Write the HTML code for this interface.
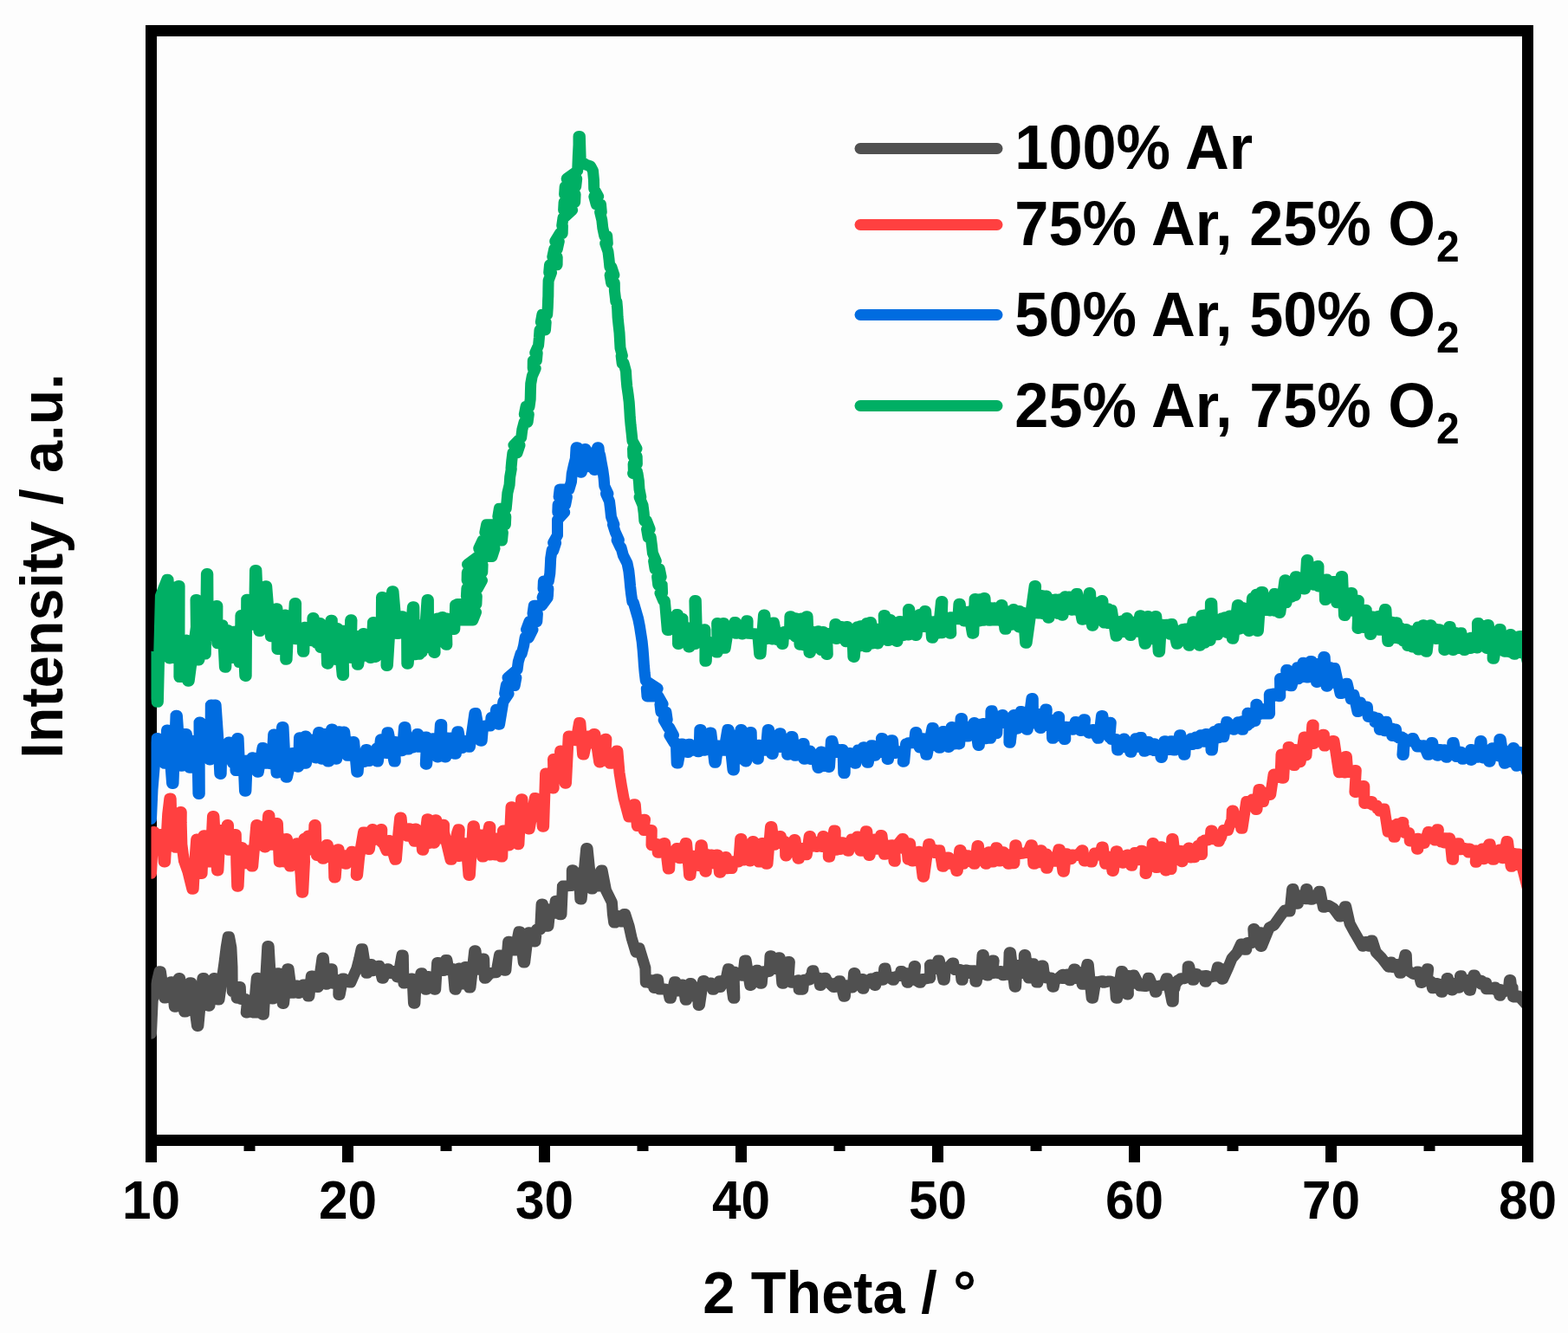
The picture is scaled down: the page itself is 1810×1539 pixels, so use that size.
<!DOCTYPE html>
<html lang="en">
<head>
<meta charset="utf-8">
<title>XRD patterns</title>
<style>
html,body{margin:0;padding:0;background:#fdfdfd;}
body{width:1810px;height:1539px;overflow:hidden;}
svg{display:block;}
text{font-family:"Liberation Sans",Arial,Helvetica,sans-serif;font-weight:bold;fill:#000;}
.tl text{font-size:60.3px;text-anchor:middle;}
.ax{font-size:66.7px;text-anchor:middle;}
.lg text{font-size:70.3px;}
.lg .sub{font-size:48px;}
.lg line{stroke-width:13;stroke-linecap:round;}
.ln{fill:none;stroke-width:13;stroke-linejoin:round;stroke-linecap:round;}
.tk line{stroke:#000;stroke-width:13;}
</style>
</head>
<body>
<svg xmlns="http://www.w3.org/2000/svg" width="1810" height="1539" viewBox="0 0 1810 1539" role="img" aria-label="XRD patterns: Intensity versus 2 Theta for four Ar/O2 ratios">
<defs><clipPath id="plot"><rect x="174.5" y="42" width="1582.5" height="1268"/></clipPath></defs>
<rect x="0" y="0" width="1810" height="1539" fill="#fdfdfd"/>
<rect x="174.5" y="35.5" width="1589" height="1281" fill="none" stroke="#000" stroke-width="13"/>
<g class="tk"><line x1="174.5" y1="1316" x2="174.5" y2="1342"/><line x1="401.5" y1="1316" x2="401.5" y2="1342"/><line x1="628.5" y1="1316" x2="628.5" y2="1342"/><line x1="855.5" y1="1316" x2="855.5" y2="1342"/><line x1="1082.5" y1="1316" x2="1082.5" y2="1342"/><line x1="1309.5" y1="1316" x2="1309.5" y2="1342"/><line x1="1536.5" y1="1316" x2="1536.5" y2="1342"/><line x1="1763.5" y1="1316" x2="1763.5" y2="1342"/>
<line x1="288" y1="1316" x2="288" y2="1329"/><line x1="515" y1="1316" x2="515" y2="1329"/><line x1="742" y1="1316" x2="742" y2="1329"/><line x1="969" y1="1316" x2="969" y2="1329"/><line x1="1196" y1="1316" x2="1196" y2="1329"/><line x1="1423" y1="1316" x2="1423" y2="1329"/><line x1="1650" y1="1316" x2="1650" y2="1329"/></g>
<g clip-path="url(#plot)">
<polyline class="ln" stroke="#505050" points="174.5,1193.2 176.2,1155 184,1121.7 185.4,1121.7 189.7,1152.1 191.1,1152.1 197.4,1133.8 198.8,1133.8 201.3,1162.3 202.7,1162.3 206.3,1129.6 207.7,1129.6 212.7,1168.1 214.1,1168.1 219.5,1134.7 220.9,1134.7 227.5,1184.4 228.9,1184.4 233.9,1129.6 235.3,1129.6 240.5,1161.2 241.9,1161.2 246.6,1129.6 248,1129.6 251.6,1154 253,1154 258.9,1111.9 261.1,1094.2 263.2,1081.7 264.6,1081.7 266.9,1094.2 268,1116.3 268.2,1144.6 269.6,1144.6 270.7,1140.8 272.1,1140.8 273.1,1152.3 274.5,1152.3 275.9,1139.4 277.3,1139.4 278,1153.5 279.4,1153.5 280,1153.5 281.4,1153.5 282.1,1153.5 283.5,1153.5 284.2,1154.6 285.6,1154.6 284.2,1169.1 285.6,1169.1 286,1157.5 287.4,1157.5 287.8,1166.1 289.2,1166.1 289.6,1157.5 291,1157.5 291.4,1168.9 292.8,1168.9 296.3,1129.2 297.7,1129.2 296.9,1168.9 298.3,1168.9 299.9,1137.3 301.3,1137.3 303,1171.3 304.4,1171.3 308.8,1092.5 310.2,1092.5 313.7,1153.1 315.1,1153.1 320.7,1123.7 322.1,1123.7 326.2,1158.4 327.6,1158.4 331.7,1118.7 333.1,1118.7 336.7,1146.3 338.1,1146.3 342.2,1137.9 343.6,1137.9 343.9,1146.5 345.3,1146.5 349.9,1136.9 351.3,1136.9 355.5,1150.1 356.9,1150.1 359.3,1126.9 360.7,1126.9 365.9,1139.5 367.3,1139.5 372,1106.1 373.4,1106.1 375.8,1136.2 377.2,1136.2 381.9,1118.8 383.3,1118.8 383.9,1135.3 385.3,1135.3 385.8,1132.5 387.2,1132.5 387.7,1135.3 389.1,1135.3 389.7,1131.5 391.1,1131.5 390.8,1148.4 392.2,1148.4 395.7,1129.9 397.1,1129.9 398.8,1133.5 400.2,1133.5 401.8,1132.1 403.2,1132.1 403.5,1134 404.9,1134 411.8,1118.4 414.6,1107.3 417.1,1095.8 418.5,1095.8 422.8,1123.3 424.2,1123.3 427.8,1113.6 429.2,1113.6 429.4,1120.7 430.8,1120.7 436.6,1115.2 438,1115.2 441,1129.2 442.4,1129.2 447.1,1118.8 448.5,1118.8 448.8,1123.5 450.2,1123.5 453.2,1121.6 454.6,1121.6 458.2,1127.9 459.6,1127.9 463.9,1103 465.3,1103 465.9,1135.1 467.3,1135.1 468.8,1130.9 470.2,1130.9 471.8,1134.1 473.2,1134.1 474.7,1129.9 476.1,1129.9 477.5,1158.3 478.9,1158.3 480.3,1131.1 481.7,1131.1 483,1139.3 484.4,1139.3 485.8,1123.8 487.2,1123.8 491.3,1142.3 492.7,1142.3 493.8,1127.5 495.2,1127.5 496.3,1138.6 497.7,1138.6 498.8,1127.5 500.2,1127.5 501.3,1142.3 502.7,1142.3 504.6,1111.6 506,1111.6 510.7,1120.4 512.1,1120.4 514.5,1108.5 515.9,1108.5 518,1119.9 519.4,1119.9 521.5,1118.5 522.9,1118.5 525,1142.3 526.4,1142.3 529.4,1118 530.8,1118 531.2,1136.2 532.6,1136.2 533,1122.3 534.4,1122.3 534.8,1135.9 536.2,1135.9 536.6,1116.6 538,1116.6 541.6,1140.1 543,1140.1 547.7,1097.8 549.1,1097.8 551.1,1119.3 552.5,1119.3 557.3,1107 558.7,1107 559.3,1129.3 560.7,1129.3 566.1,1123.4 567.5,1123.4 571.6,1122.7 573,1122.7 576.4,1103 577.8,1103 582.5,1120.2 583.9,1120.2 586.6,1087.3 588,1087.3 593.4,1097 594.8,1097 598.9,1075.7 600.3,1075.7 604.3,1111.1 605.7,1111.1 609.8,1076.8 611.2,1076.8 616.6,1087 618,1087 619.4,1073 620.8,1073 622.3,1073 623.7,1073 625.1,1043.9 626.5,1043.9 628.4,1065 629.8,1065 631.6,1049.7 633,1049.7 631.6,1069.2 633,1069.2 634.8,1051 636.2,1051 638,1054.6 639.4,1054.6 641.2,1040.2 642.6,1040.2 646.6,1055.8 648,1055.8 649.4,1023.1 650.8,1023.1 658.9,1022.4 660.3,1022.4 660.3,1004.7 661.7,1004.7 663.7,1019.4 665.1,1019.4 667.1,1008.1 668.5,1008.1 669.8,1038.1 671.2,1038.1 676.7,979.5 678.1,979.5 682.8,1026.1 684.2,1026.1 686.2,1010.2 687.6,1010.2 688.1,1023.1 689.5,1023.1 690,1012.4 691.4,1012.4 691.8,1023 693.2,1023 693.7,1005.1 695.1,1005.1 699.6,1028.2 706.4,1041.9 707.4,1055.5 708.7,1065.1 710.1,1065.1 712.6,1057.6 714,1057.6 716.5,1064 717.9,1064 720.3,1055.6 721.7,1055.6 726.1,1069.2 729.1,1082.8 734,1099.2 736.7,1094.8 738.1,1094.8 744.9,1117.3 745.3,1134.1 746.7,1134.1 747.7,1131.5 749.1,1131.5 750,1134.6 751.4,1134.6 752.4,1131.8 753.8,1131.8 754.7,1140.4 756.1,1140.4 758.1,1130.7 759.5,1130.7 761,1142 762.4,1142 763.9,1142 765.3,1142 766.8,1142 768.2,1142 769.7,1143.7 771.1,1143.7 773,1152.3 774.4,1152.3 778.5,1133.8 779.9,1133.8 782.4,1144 783.8,1144 787.3,1137.1 788.7,1137.1 791.2,1154.3 792.6,1154.3 796.7,1135.5 798.1,1135.5 797.8,1150.1 799.2,1150.1 804.5,1139.9 805.9,1139.9 806.1,1160.4 807.5,1160.4 811.6,1132.5 813,1132.5 815.5,1137.4 816.9,1137.4 819.4,1134.9 820.8,1134.9 822.7,1142.3 824.1,1142.3 824.9,1139.9 826.3,1139.9 830.4,1132.7 831.8,1132.7 830.4,1139.6 831.8,1139.6 836.5,1131.3 837.9,1131.3 840.4,1118.7 841.8,1118.7 846.5,1152.3 847.9,1152.3 847,1122.2 848.4,1122.2 850.1,1125.5 851.5,1125.5 853.3,1123 854.7,1123 856.4,1126.3 857.8,1126.3 859.7,1108.9 861.1,1108.9 865.8,1137.4 867.2,1137.4 868,1122.2 869.4,1122.2 872.4,1133.5 873.8,1133.5 873,1120.3 874.4,1120.3 877.9,1135.2 879.3,1135.2 880.2,1124.4 881.6,1124.4 882.4,1121.5 883.8,1121.5 884.6,1121.5 886,1121.5 886.8,1121.5 888.2,1121.5 889,1103.7 890.4,1103.7 892.3,1118.6 893.7,1118.6 898.9,1105.8 900.3,1105.8 902.8,1135.2 904.2,1135.2 910,1110.6 911.4,1110.6 910,1131.3 911.4,1131.3 913.3,1134.3 914.7,1134.3 921,1131.8 922.4,1131.8 922.1,1142.3 923.5,1142.3 924.4,1134.9 925.8,1134.9 925.4,1142.3 926.8,1142.3 927.9,1131.2 929.3,1131.2 930.4,1131.2 931.8,1131.2 932.9,1131.2 934.3,1131.2 935.3,1127.4 936.7,1127.4 937.6,1120.8 939,1120.8 940.5,1129 941.9,1129 943.5,1129 944.9,1129 946.4,1137.4 947.8,1137.4 947,1130.5 948.4,1130.5 949.4,1133.1 950.8,1133.1 951.9,1129.2 953.3,1129.2 953.6,1132.4 955,1132.4 961.9,1139.6 963.3,1139.6 963,1135.5 964.4,1135.5 965.7,1138.6 967.1,1138.6 968.5,1132.7 969.9,1132.7 974,1150.3 975.4,1150.3 976.2,1137.7 977.6,1137.7 982.9,1140.1 984.3,1140.1 985.6,1123.6 987,1123.6 988.4,1134.1 989.8,1134.1 995,1130.5 996.4,1130.5 995.6,1141.2 997,1141.2 998.9,1134.3 1000.3,1134.3 1003.3,1134.1 1004.7,1134.1 1005,1129.9 1006.4,1129.9 1009.4,1137.4 1010.8,1137.4 1011.6,1128.3 1013,1128.3 1018.2,1131.3 1019.6,1131.3 1020.7,1118 1022.1,1118 1023.7,1127.4 1025.1,1127.4 1030.4,1131.3 1031.8,1131.3 1030.9,1128.3 1032.3,1128.3 1037.6,1126.3 1039,1126.3 1039.8,1121.6 1041.2,1121.6 1043.1,1127.6 1044.5,1127.6 1046.4,1123.8 1047.8,1123.8 1047,1134.3 1048.4,1134.3 1049.7,1125.5 1051.1,1125.5 1052.5,1130.2 1053.9,1130.2 1055.2,1115.6 1056.6,1115.6 1055.2,1131.3 1056.6,1131.3 1061.3,1134.3 1062.7,1134.3 1064.6,1130.5 1066,1130.5 1072.4,1129.1 1073.8,1129.1 1073.5,1113.9 1074.9,1113.9 1079.5,1118.6 1080.9,1118.6 1082.9,1108.9 1084.3,1108.9 1088.9,1131.3 1090.3,1131.3 1091.2,1119.4 1092.6,1119.4 1099.4,1111.9 1100.8,1111.9 1099.4,1117.5 1100.8,1117.5 1102.1,1119.6 1103.5,1119.6 1104.7,1119.6 1106.1,1119.6 1107.3,1119.6 1108.7,1119.6 1109.9,1131.3 1111.3,1131.3 1111,1121.6 1112.4,1121.6 1112.7,1125.1 1114.1,1125.1 1114.4,1120 1115.8,1120 1117.7,1123.6 1119.1,1123.6 1119.7,1120.7 1121.1,1120.7 1121.8,1122.8 1123.2,1122.8 1123.8,1120.7 1125.2,1120.7 1125.9,1133.3 1127.3,1133.3 1128.6,1120.9 1130,1120.9 1131.3,1123.7 1132.7,1123.7 1134,1102.6 1135.4,1102.6 1134.7,1124.7 1136.1,1124.7 1137,1110.3 1138.4,1110.3 1139.2,1126.1 1140.6,1126.1 1145.8,1108.9 1147.2,1108.9 1145.8,1123.6 1147.2,1123.6 1148.6,1122.1 1150,1122.1 1151.3,1123.6 1152.7,1123.6 1154.1,1121.6 1155.5,1121.6 1157.4,1125.8 1158.8,1125.8 1160.2,1122.4 1161.6,1122.4 1162.9,1125.2 1164.3,1125.2 1165.1,1099.8 1166.5,1099.8 1171.2,1139.2 1172.6,1139.2 1174,1114.5 1175.4,1114.5 1180.6,1123.6 1182,1123.6 1182.3,1102.6 1183.7,1102.6 1187.2,1129.1 1188.6,1129.1 1191.6,1112.8 1193,1112.8 1196.6,1134.1 1198,1134.1 1202.7,1115 1204.1,1115 1205.5,1126.3 1206.9,1126.3 1207.8,1129 1209.2,1129 1210.2,1129 1211.6,1129 1212.5,1129 1213.9,1129 1214.9,1139.2 1216.3,1139.2 1217.6,1131.6 1219,1131.6 1226.5,1125.2 1227.9,1125.2 1226.5,1129.6 1227.9,1129.6 1228.4,1125.8 1229.8,1125.8 1230.3,1129 1231.7,1129 1232.3,1125.1 1233.7,1125.1 1234.2,1131.8 1235.6,1131.8 1239.7,1118.9 1241.1,1118.9 1239.7,1129.6 1241.1,1129.6 1246.3,1122.7 1247.7,1122.7 1249.1,1136.3 1250.5,1136.3 1254.9,1113.6 1256.3,1113.6 1260.2,1152.3 1261.6,1152.3 1264.6,1133.8 1266,1133.8 1272.3,1132.7 1273.7,1132.7 1273.4,1134.3 1274.8,1134.3 1280,1132.9 1281.4,1132.9 1285.6,1134.3 1287,1134.3 1288.3,1152.3 1289.7,1152.3 1294.4,1121.6 1295.8,1121.6 1295.5,1146.2 1296.9,1146.2 1298.3,1129.6 1299.7,1129.6 1301,1147.9 1302.4,1147.9 1302.1,1126.6 1303.5,1126.6 1304.9,1136.1 1306.3,1136.1 1307.7,1126.1 1309.1,1126.1 1315.3,1138 1316.7,1138 1322,1138.5 1323.4,1138.5 1325.3,1129.2 1326.7,1129.2 1330.8,1139 1332.2,1139 1333.6,1145.2 1335,1145.2 1335.8,1138.5 1337.2,1138.5 1342.4,1137.1 1343.8,1137.1 1346.3,1129.7 1347.7,1129.7 1352.9,1156.2 1354.3,1156.2 1354.6,1140.8 1356,1140.8 1357.1,1134.1 1358.5,1134.1 1359.5,1131.9 1360.9,1131.9 1362.9,1129.7 1364.3,1129.7 1366.2,1129.7 1367.6,1129.7 1369.5,1127.4 1370.9,1127.4 1371.2,1115.7 1372.6,1115.7 1376.7,1131.3 1378.1,1131.3 1380.5,1124.5 1381.9,1124.5 1383.3,1126.6 1384.7,1126.6 1387.2,1127.8 1388.6,1127.8 1389.1,1126.8 1390.5,1126.8 1391,1133.3 1392.4,1133.3 1391.6,1126.4 1393,1126.4 1394.9,1128.5 1396.3,1128.5 1401.5,1127 1402.9,1127 1405.4,1116.8 1406.8,1116.8 1407.9,1126.1 1409.3,1126.1 1410.4,1118.7 1411.8,1118.7 1410.4,1130.2 1411.8,1130.2 1417.7,1117.1 1422.1,1106.3 1427.7,1100.2 1432.5,1089.9 1433.9,1089.9 1437.4,1096.3 1438.8,1096.3 1439.7,1088.4 1441.1,1088.4 1441.9,1088.4 1443.3,1088.4 1444.1,1088.4 1445.5,1088.4 1446.3,1086.9 1447.7,1086.9 1446.8,1072.6 1448.2,1072.6 1448.8,1085.1 1450.2,1085.1 1450.7,1078.2 1452.1,1078.2 1452.6,1086.3 1454,1086.3 1454.6,1076.7 1456,1076.7 1455.1,1092.4 1456.5,1092.4 1465.2,1071 1470.7,1068 1477.4,1058.6 1482.9,1051 1487.7,1052.1 1489.1,1052.1 1491.6,1026.6 1493,1026.6 1497.1,1043.2 1498.5,1043.2 1499.3,1034.1 1500.7,1034.1 1501.3,1038.1 1502.7,1038.1 1503.4,1033.6 1504.8,1033.6 1505.5,1036.9 1506.9,1036.9 1507.6,1026.6 1509,1026.6 1507.6,1037.7 1509,1037.7 1510.3,1032.9 1511.7,1032.9 1513.1,1038.3 1514.5,1038.3 1515.8,1034.1 1517.2,1034.1 1518.6,1037.1 1520,1037.1 1522.5,1029.2 1523.9,1029.2 1527.4,1047.3 1528.8,1047.3 1533.7,1045.5 1539.2,1048.6 1546.2,1058.1 1547.6,1058.1 1552.3,1046.8 1553.7,1046.8 1558.1,1066.3 1564.1,1077.3 1572.8,1092.2 1574.2,1092.2 1576.1,1087.4 1577.5,1087.4 1579.4,1092.2 1580.8,1092.2 1582.7,1086.1 1584.1,1086.1 1588.4,1099.4 1595,1106.1 1602.6,1116.2 1604,1116.2 1604.8,1110.9 1606.2,1110.9 1608.1,1116.7 1609.5,1116.7 1611.4,1113.5 1612.8,1113.5 1615.8,1123.3 1617.2,1123.3 1621.9,1102.6 1623.3,1102.6 1624.1,1120.6 1625.5,1120.6 1631.3,1124.4 1632.7,1124.4 1635.7,1122 1637.1,1122 1640.2,1134.4 1641.6,1134.4 1647.3,1118.7 1648.7,1118.7 1647.3,1131.1 1648.7,1131.1 1650.4,1133.3 1651.8,1133.3 1653.5,1140.7 1654.9,1140.7 1657.9,1135.5 1659.3,1135.5 1659.6,1140.9 1661,1140.9 1661.2,1136.6 1662.6,1136.6 1663.4,1145.2 1664.8,1145.2 1666.5,1136.1 1667.9,1136.1 1669.5,1141.3 1670.9,1141.3 1670.1,1129.6 1671.5,1129.6 1675.6,1142.9 1677,1142.9 1677.8,1135.5 1679.2,1135.5 1683.3,1140.2 1684.7,1140.2 1685.5,1126.7 1686.9,1126.7 1688.3,1135.2 1689.7,1135.2 1693.8,1131.6 1695.2,1131.6 1696,1143.3 1697.4,1143.3 1701,1125.9 1702.4,1125.9 1704.9,1131.3 1706.3,1131.3 1708.7,1132.2 1710.1,1132.2 1709.9,1136.3 1711.3,1136.3 1714.3,1134.7 1715.7,1134.7 1715.4,1141.8 1716.8,1141.8 1720.9,1141.6 1722.3,1141.6 1722,1141.8 1723.4,1141.8 1724.8,1139.9 1726.2,1139.9 1727.8,1143.8 1729.2,1143.8 1730.8,1142.5 1732.2,1142.5 1730.8,1149.2 1732.2,1149.2 1733.1,1143.2 1734.5,1143.2 1735.3,1144.8 1736.7,1144.8 1737.5,1142.9 1738.9,1142.9 1739.7,1144.1 1741.1,1144.1 1742.4,1131.6 1743.8,1131.6 1744.7,1140.2 1746.1,1140.2 1746.5,1150.9 1747.9,1150.9 1748.3,1150.9 1749.7,1150.9 1750,1150.9 1751.4,1150.9 1751.8,1150.1 1753.2,1150.1 1763.6,1161.6"><title>100% Ar</title></polyline>
<polyline class="ln" stroke="#ff4040" points="174.5,1008.3 177,960.6 178.4,960.6 180.3,981.3 181.7,981.3 185.3,963.4 186.7,963.4 189.2,995.1 190.6,995.1 193.7,939.7 195.8,921.9 197.2,921.9 198.6,976.9 200,976.9 200.5,945.5 201.9,945.5 202.4,978.3 203.8,978.3 207.9,937.6 209.3,937.6 209.2,949.7 209.9,975.1 212.4,993.9 216.8,1006 221.8,1026.3 223.2,1026.3 225.2,989.4 226.7,968.9 228.1,968.9 231.7,1008.6 233.1,1008.6 235,964.8 236.4,964.8 241.6,995.1 243,995.1 245.5,942.4 246.9,942.4 250.5,1005 251.9,1005 254.4,958.6 255.8,958.6 256.3,976.6 257.7,976.6 258.2,961.9 259.6,961.9 260.2,976.3 261.6,976.3 262.1,952.6 263.5,952.6 263.7,981.3 265.1,981.3 270.9,963.4 272.3,963.4 272.8,996.1 273.7,1023.3 275.1,1023.3 276,1003.8 278.1,978.5 279.5,978.5 282,996.8 283.4,996.8 286.4,982.1 287.8,982.1 290.3,1000.1 291.7,1000.1 295.8,952.6 297.2,952.6 299.1,975.8 300.5,975.8 301.3,954.5 302.7,954.5 305.2,978 306.6,978 309.6,941.6 311,941.6 311.8,975.2 313.2,975.2 319,950.6 320.4,950.6 322.3,995.1 323.7,995.1 325.1,973.9 326.5,973.9 327.8,995.1 329.2,995.1 330,968.5 331.4,968.5 334.5,1000.1 335.9,1000.1 336.1,975.8 337.5,975.8 339.2,995.1 340.6,995.1 342.2,973.8 343.6,973.8 347.1,1009.3 348.3,1030.2 349.7,1030.2 351.5,995 351,968.3 352.4,968.3 353.3,978.5 354.7,978.5 355.5,965 356.9,965 360.4,981.3 361.8,981.3 362.9,952.6 364.3,952.6 365.3,987.4 366.7,987.4 368.7,978.1 370.1,978.1 372,991.2 373.4,991.2 377,975.5 378.4,975.5 377,989.6 378.4,989.6 383.6,982.1 385,982.1 385.8,1013 387.2,1013 389.7,980.7 391.1,980.7 391.6,994.9 393,994.9 393.5,988.2 394.9,988.2 395.5,995.2 396.9,995.2 397.4,987.7 398.8,987.7 398.5,997.3 399.9,997.3 405.7,983.2 407.1,983.2 408.4,994.7 409.8,994.7 411.2,984.3 412.6,984.3 411.2,1010.4 412.6,1010.4 414.7,989.4 419.5,961.1 420.9,961.1 425,980.5 426.4,980.5 429.4,957.6 430.8,957.6 431.9,969.5 433.3,969.5 434.4,960.6 435.8,960.6 436.9,969.5 438.3,969.5 439.4,957.6 440.8,957.6 440.5,972.5 441.9,972.5 446,981.8 447.4,981.8 448.2,970.5 449.6,970.5 456,992.3 457.4,992.3 459.9,961.8 461.7,944 463.1,944 464.8,963.6 466.2,963.6 467.6,958.2 469,958.2 470.3,965.3 471.7,965.3 471.4,956.7 472.8,956.7 478.1,971.3 479.5,971.3 479.2,957.1 480.6,957.1 481.9,968.5 483.3,968.5 484.7,959.9 486.1,959.9 487.4,981.3 488.8,981.3 493,945.7 494.4,945.7 494.6,973.6 496,973.6 497.4,951.8 498.8,951.8 500.2,973.2 501.6,973.2 502.4,946.8 503.8,946.8 506.2,968 507.6,968 511.2,952.3 512.6,952.3 512.5,960.7 520,992.3 521.4,992.3 527.6,961.8 528.9,957.8 530.3,957.8 528.9,988.5 530.3,988.5 536.6,973.8 538,973.8 541,1010.4 542.4,1010.4 546,953.7 547.4,953.7 549.8,983.6 551.2,983.6 554.5,963.9 555.9,963.9 556.6,989.1 558,989.1 564.5,954.6 565.9,954.6 564.8,987 566.2,987 568.2,971.8 569.6,971.8 571.6,987 573,987 572.3,968 573.7,968 578.4,989.1 579.8,989.1 580.5,959.1 581.9,959.1 586.6,976.1 588,976.1 590,931.8 591.4,931.8 597.5,974.7 598.9,974.7 601.6,922.7 603,922.7 604.3,953.6 605.7,953.6 609.8,935.2 611.2,935.2 609.8,957 611.2,957 617.3,921.6 618.7,921.6 618,942.7 619.4,942.7 622.8,923.6 624.2,923.6 626.2,954.3 627.6,954.3 629.6,892.9 631,892.9 632.3,906.5 633.7,906.5 635,896.3 636.4,896.3 637.8,909.9 639.2,909.9 638.5,876.5 639.9,876.5 644.6,892.9 646,892.9 646.6,867 648,867 652.1,904.2 653.5,904.2 656.2,849.9 657.6,849.9 663.7,854.7 665.1,854.7 668.5,834.5 669.9,834.5 672.6,871 674,871 678.7,849.9 680.1,849.9 681.4,858.1 682.8,858.1 685.5,847.6 686.9,847.6 691.7,879.9 693.1,879.9 693,855.4 694.4,855.4 695.8,873.9 697.2,873.9 698.5,853.3 699.9,853.3 698.5,878.3 699.9,878.3 701.2,869.4 702.6,869.4 703.9,881.3 705.3,881.3 711.5,867 712.9,867 715,891.9 717.6,908.2 720.1,921.9 725.8,943 727.2,943 731.9,928.7 733.3,928.7 735.3,953.6 736.7,953.6 743.1,946.2 744.5,946.2 743.1,958.6 744.5,958.6 750.9,958.4 752.3,958.4 752,975.8 753.4,975.8 757.5,974.4 758.9,974.4 759.2,984.3 760.6,984.3 766.3,973.5 767.7,973.5 771.3,1003.1 772.7,1003.1 773.5,984.9 774.9,984.9 775.3,989.4 776.7,989.4 777.1,985 778.5,985 778.9,989.1 780.3,989.1 780.7,979.6 782.1,979.6 784,990.7 785.4,990.7 791.2,973.5 792.6,973.5 795.6,1010.4 797,1010.4 799.5,988.2 800.9,988.2 806.1,999.5 807.5,999.5 808.9,975.8 810.3,975.8 813.9,1006.2 815.3,1006.2 815.5,986.6 816.9,986.6 818,994.8 819.4,994.8 820.5,986.9 821.9,986.9 822.1,996.8 823.5,996.8 827.1,986.9 828.5,986.9 830.4,1007.3 831.8,1007.3 832.6,991.5 834,991.5 834.9,1001.2 836.3,1001.2 837.1,989.5 838.5,989.5 838.2,1002.8 839.6,1002.8 840.9,995.3 842.3,995.3 843.7,1002.6 845.1,1002.6 844.8,994.8 846.2,994.8 851.4,995.1 852.8,995.1 854.7,968.5 856.1,968.5 858.1,992.9 859.5,992.9 862.5,977.2 863.9,977.2 865.2,994 866.6,994 868.6,971.6 870,971.6 871.6,990.4 873,990.4 874.6,975.5 876,975.5 875.7,995.1 877.1,995.1 879.1,973.5 880.5,973.5 884.6,997.3 886,997.3 889.5,954.5 890.9,954.5 893.4,975.2 894.8,975.2 900,965.6 901.4,965.6 902.5,974.2 903.9,974.2 905,971.6 906.4,971.6 906.7,987.9 908.1,987.9 908.5,974 909.9,974 910.3,981.6 911.7,981.6 912.1,973.5 913.5,973.5 913.9,982.9 915.3,982.9 916.6,969.6 918,969.6 921,991.2 922.4,991.2 924.4,979.4 925.8,979.4 929.9,986.8 931.3,986.8 934.2,965.6 935.6,965.6 935.3,977.4 936.7,977.4 938.7,972 940.1,972 942,977.4 943.4,977.4 942.5,972.2 943.9,972.2 948.1,977.4 949.5,977.4 949.7,965.6 951.1,965.6 952.5,975.5 953.9,975.5 955.2,968.3 956.6,968.3 956.3,989.2 957.7,989.2 962.8,958.9 964.2,958.9 964.1,981.3 965.5,981.3 966.3,974.3 967.7,974.3 968.5,980.5 969.9,980.5 971.8,972.7 973.2,972.7 973.5,979.4 974.9,979.4 975.1,973.5 976.5,973.5 978.4,982.2 979.8,982.2 982.9,968.9 984.3,968.9 986.2,974.3 987.6,974.3 989.5,966.1 990.9,966.1 992.8,982.2 994.2,982.2 999.4,959.7 1000.8,959.7 1002.8,987.4 1004.2,987.4 1006.1,968.9 1007.5,968.9 1007.7,979.2 1009.1,979.2 1009.4,968.9 1010.8,968.9 1011.6,980.2 1013,980.2 1016.6,964.5 1018,964.5 1020.4,986.3 1021.8,986.3 1023.7,976.1 1025.1,976.1 1024.9,984.6 1026.3,984.6 1029.3,975.7 1030.7,975.7 1032,994.3 1033.4,994.3 1032.6,977.7 1034,977.7 1041.4,968.5 1042.8,968.5 1042,979.4 1043.4,979.4 1045,973.8 1046.4,973.8 1048.1,992.3 1049.5,992.3 1049.2,973.8 1050.6,973.8 1052.5,994 1053.9,994 1055.8,984.3 1057.2,984.3 1058,992 1059.4,992 1060.2,983.2 1061.6,983.2 1065.2,1012.2 1066.6,1012.2 1071.8,974.4 1073.2,974.4 1075.1,982.4 1076.5,982.4 1079,981.6 1080.4,981.6 1079,984.6 1080.4,984.6 1083.4,981.8 1084.8,981.8 1087.8,1000.3 1089.2,1000.3 1088.9,990.4 1090.3,990.4 1091.4,996.5 1092.8,996.5 1093.9,989.9 1095.3,989.9 1095,997.3 1096.4,997.3 1100,993.7 1101.4,993.7 1103.9,1005.4 1105.3,1005.4 1107.7,981.6 1109.1,981.6 1111,997.3 1112.4,997.3 1116,987.7 1117.4,987.7 1118.8,994.5 1120.2,994.5 1121.5,989.2 1122.9,989.2 1124.2,997.3 1125.6,997.3 1128.1,976.6 1129.5,976.6 1130.9,992.9 1132.3,992.9 1137,986 1138.4,986 1137.5,997.3 1138.9,997.3 1140.8,983.8 1142.2,983.8 1145.2,995.1 1146.6,995.1 1149.7,978.8 1151.1,978.8 1153,994 1154.4,994 1157.4,983.8 1158.8,983.8 1157.9,992.9 1159.3,992.9 1162.4,986.6 1163.8,986.6 1163.5,997.3 1164.9,997.3 1166.5,988.6 1167.9,988.6 1169.5,996.8 1170.9,996.8 1171.8,975.8 1173.2,975.8 1174,985.7 1175.4,985.7 1179.5,985.2 1180.9,985.2 1180.6,984.9 1182,984.9 1185,984.6 1186.4,984.6 1190,975.7 1191.4,975.7 1192.8,997.3 1194.2,997.3 1196.6,983.8 1198,983.8 1199.9,995.7 1201.3,995.7 1201,981.8 1202.4,981.8 1204.1,994.9 1205.5,994.9 1207.1,986 1208.5,986 1207.7,1002.3 1209.1,1002.3 1211.5,992.6 1212.9,992.6 1217.6,994.3 1219,994.3 1222,980.7 1223.4,980.7 1227,1006.2 1228.4,1006.2 1230.3,985.8 1231.7,985.8 1235.3,991.8 1236.7,991.8 1237,987.1 1238.4,987.1 1243,987.4 1244.4,987.4 1248.6,981.8 1250,981.8 1251.3,994 1252.7,994 1257.4,992.6 1258.8,992.6 1259.1,995.1 1260.5,995.1 1263.5,984.9 1264.9,984.9 1269.5,987.4 1270.9,987.4 1271.8,977.9 1273.2,977.9 1275.6,997.3 1277,997.3 1280.6,989.3 1282,989.3 1283.9,1005.4 1285.3,1005.4 1288.3,982.7 1289.7,982.7 1291.1,994 1292.5,994 1293.3,988.7 1294.7,988.7 1295.5,996.2 1296.9,996.2 1296.1,988.2 1297.5,988.2 1298.6,994.9 1300,994.9 1301,986.9 1302.4,986.9 1303,995.4 1304.4,995.4 1304.9,987.7 1306.3,987.7 1305.5,999.3 1306.9,999.3 1309.8,984.6 1311.2,984.6 1313.9,992.7 1315.3,992.7 1317.3,982.2 1318.7,982.2 1319.7,991 1321.1,991 1322,984.6 1323.4,984.6 1322,1008.4 1323.4,1008.4 1324.8,988.5 1326.2,988.5 1327.5,999.7 1328.9,999.7 1330.2,973.6 1331.6,973.6 1334.3,1001.6 1335.7,1001.6 1339.8,977.7 1341.2,977.7 1342.5,998.2 1343.9,998.2 1345.2,980.5 1346.6,980.5 1345.2,1005 1346.6,1005 1348,985.2 1349.4,985.2 1350.7,1003.6 1352.1,1003.6 1352.7,968.6 1354.1,968.6 1355.5,981.8 1356.9,981.8 1363,982.5 1364.4,982.5 1363.7,994.7 1365.1,994.7 1366.4,983.8 1367.8,983.8 1369.1,989.1 1370.5,989.1 1371.8,979.1 1373.2,979.1 1373.9,990 1375.3,990 1375.9,980.8 1377.3,980.8 1378,989.7 1379.4,989.7 1382.8,976.4 1384.2,976.4 1386.2,986.6 1387.6,986.6 1387.5,971.6 1388.9,971.6 1390.3,970.1 1391.7,970.1 1393,970.1 1394.4,970.1 1395.7,968.6 1397.1,968.6 1397.8,958.9 1399.2,958.9 1400.5,968.8 1401.9,968.8 1403.2,967.6 1404.6,967.6 1406,971.3 1407.4,971.3 1408,967.1 1409.4,967.1 1412.1,958.6 1413.5,958.6 1416.2,958.6 1417.6,958.6 1420.3,950.1 1421.7,950.1 1422.3,936.1 1423.7,936.1 1424.5,949 1425.9,949 1426.8,943.1 1428.2,943.1 1429,950.2 1430.4,950.2 1431.2,942.5 1432.6,942.5 1432.6,956.3 1434,956.3 1438.7,925.5 1440.1,925.5 1442.1,929.7 1443.5,929.7 1445.5,923 1446.9,923 1449.6,934.4 1451,934.4 1453,911.4 1454.4,911.4 1457.1,925.6 1458.5,925.6 1460.5,915.2 1461.9,915.2 1465.3,917.4 1466.7,917.4 1470.1,894.1 1471.5,894.1 1472.3,897.4 1473.7,897.4 1474.5,894.9 1475.9,894.9 1476.7,897.4 1478.1,897.4 1479,870.9 1480.4,870.9 1480.3,898.3 1481.7,898.3 1483.1,872.5 1484.5,872.5 1485.8,879.2 1487.2,879.2 1487.1,862.4 1488.5,862.4 1493.3,883.6 1494.7,883.6 1494,865.4 1495.4,865.4 1499.8,879.7 1501.2,879.7 1505.2,850.9 1506.6,850.9 1506.6,872.1 1508,872.1 1509.3,852.4 1510.7,852.4 1512,857 1513.4,857 1514.8,837 1516.2,837 1515.5,858.5 1516.9,858.5 1517.5,849.2 1518.9,849.2 1519.5,851.9 1520.9,851.9 1527,848.2 1528.4,848.2 1528.4,861.1 1529.8,861.1 1532.5,856.1 1533.9,856.1 1536.6,857.4 1538,857.4 1538.6,855.4 1540,855.4 1545.5,891.7 1546.9,891.7 1548.5,877.1 1549.9,877.1 1551.6,891.9 1553,891.9 1553,873.4 1554.4,873.4 1555.7,891.4 1557.1,891.4 1558.4,889.9 1559.8,889.9 1561.2,891.4 1562.6,891.4 1563.9,889.4 1565.3,889.4 1563.9,914.4 1565.3,914.4 1567.1,908.9 1568.5,908.9 1570.3,913.1 1571.7,913.1 1573.4,907.5 1574.8,907.5 1574.8,927.4 1576.2,927.4 1578.2,925.9 1579.6,925.9 1581.6,928.1 1583,928.1 1582.3,925.5 1583.7,925.5 1584.2,929.3 1585.6,929.3 1586.1,929.8 1587.5,929.8 1587.9,930.3 1589.3,930.3 1589.8,933.4 1591.2,933.4 1592.5,936.3 1593.9,936.3 1596.6,934.1 1598,934.1 1602.1,960.2 1603.5,960.2 1605.5,953.3 1606.9,953.3 1608.9,966.3 1610.3,966.3 1613,951.2 1614.4,951.2 1615.7,953.9 1617.1,953.9 1618.5,949.4 1619.9,949.4 1619.2,954.7 1620.6,954.7 1621.2,961.5 1622.6,961.5 1623.2,961.5 1624.6,961.5 1625.3,961.5 1626.7,961.5 1627.3,971.1 1628.7,971.1 1629.4,968.8 1630.8,968.8 1631.4,970.5 1632.8,970.5 1633.5,968.8 1634.9,968.8 1635.5,980.2 1636.9,980.2 1636.2,968.2 1637.6,968.2 1643,973.4 1644.4,973.4 1648.5,960.5 1649.9,960.5 1655.7,969.9 1657.1,969.9 1659,957.8 1660.4,957.8 1659.6,968.8 1661,968.8 1663.4,971.9 1664.8,971.9 1665.1,968.7 1666.5,968.7 1666.8,973 1668.2,973 1667.9,967.8 1669.3,967.8 1670.1,972 1671.5,972 1672.3,967.8 1673.7,967.8 1676.2,992.3 1677.6,992.3 1677.8,974.4 1679.2,974.4 1680.3,979.4 1681.7,979.4 1682.8,973.8 1684.2,973.8 1685.5,980.7 1686.9,980.7 1690,979.6 1691.4,979.6 1691.1,981.3 1692.5,981.3 1693,980.3 1694.4,980.3 1694.9,984.1 1696.3,984.1 1695.5,979.9 1696.9,979.9 1697.4,983.5 1698.8,983.5 1699.4,982.1 1700.8,982.1 1701.3,983.6 1702.7,983.6 1703.2,982.1 1704.6,982.1 1703.2,995.3 1704.6,995.3 1711,979.9 1712.4,979.9 1712.1,991.8 1713.5,991.8 1714.3,980.9 1715.7,980.9 1716.5,988.5 1717.9,988.5 1718.7,974.7 1720.1,974.7 1723.1,992.3 1724.5,992.3 1727,982.7 1728.4,982.7 1729.2,989.6 1730.6,989.6 1730.8,981 1732.2,981 1734.2,990.7 1735.6,990.7 1739.1,971.6 1740.5,971.6 1744.1,1000.3 1745.5,1000.3 1747.4,985.5 1748.8,985.5 1749.6,998.4 1751,998.4 1751.8,986 1753.2,986 1763.5,1025.9"><title>75% Ar, 25% O2</title></polyline>
<polyline class="ln" stroke="#006ce0" points="174.5,945.4 176,911.5 180.9,852.6 182.3,852.6 182.7,876.1 184.1,876.1 184.5,860.8 185.9,860.8 186.3,876.3 187.7,876.3 188.1,856.7 189.5,856.7 189.7,881.3 191.1,881.3 192.5,842.9 193.9,842.9 198.6,904.5 200,904.5 203,826.3 204.4,826.3 208.5,884.3 209.9,884.3 210.2,847.3 211.6,847.3 213.5,880.7 214.9,880.7 214,847.5 215.4,847.5 218.4,886.3 219.8,886.3 221.1,855.3 222.5,855.3 223.7,878.5 225.1,878.5 226.3,855.3 227.7,855.3 228.9,916.4 230.3,916.4 230,834.1 231.4,834.1 233.9,868.3 235.3,868.3 237.8,842.6 239.2,842.6 241.6,876.9 243,876.9 243.3,814 244.7,814 244.4,863.1 245.8,863.1 247.7,814 249.1,814 251.9,854.1 253.8,893.4 255.2,893.4 256,859.7 257.4,859.7 258.2,870.6 259.6,870.6 260.4,860.2 261.8,860.2 262.6,874.1 264,874.1 263.7,857.1 265.1,857.1 268.2,880.5 269.6,880.5 270.1,860.6 271.5,860.6 272,889.6 273.4,889.6 273.7,852.5 275.1,852.5 276.6,886.6 278,886.6 279.6,877.7 281,877.7 282.5,913.3 283.9,913.3 285.3,878 286.7,878 288.1,887.9 289.5,887.9 290.8,874.7 292.2,874.7 293,888.1 294.4,888.1 295.2,875.5 296.6,875.5 296.9,891.2 298.3,891.2 303,863.6 304.4,863.6 306.8,881.3 308.2,881.3 309.1,865.6 310.5,865.6 312.4,881.8 313.8,881.8 315.7,847.9 317.1,847.9 319,892.3 320.4,892.3 325.6,839.4 327,839.4 330,897.3 331.4,897.3 337.8,869.4 339.2,869.4 343.3,885.2 344.7,885.2 345.5,851.7 346.9,851.7 348.8,875.9 350.2,875.9 352.1,850.1 353.5,850.1 352.1,881.3 353.5,881.3 355.5,854.9 356.9,854.9 358.8,874.1 360.2,874.1 361.5,853.8 362.9,853.8 364.2,875 365.6,875 367.6,845.5 369,845.5 370.9,876.2 372.3,876.2 372,847.2 373.4,847.2 378.6,879.1 380,879.1 382.5,841.9 383.9,841.9 387.4,876.2 388.8,876.2 390.8,844.7 392.2,844.7 394.6,869.5 396,869.5 396.3,845 397.7,845 400.7,872.3 402.1,872.3 402.4,856.6 403.8,856.6 404.9,869.1 406.3,869.1 407.3,856.6 408.7,856.6 411.8,891.3 413.2,891.3 414.5,873.1 415.9,873.1 419.5,879.5 420.9,879.5 422.3,865.4 423.7,865.4 425,878.4 426.4,878.4 429.4,868.2 430.8,868.2 432.2,876.3 433.6,876.3 435,863.7 436.4,863.7 435,879.1 436.4,879.1 439.4,853.8 440.8,853.8 445.5,869.5 446.9,869.5 446.9,845.7 448.3,845.7 454.9,879.1 456.3,879.1 455.4,856.6 456.8,856.6 463.1,866.8 464.5,866.8 466.5,839.4 467.9,839.4 470.3,865.1 471.7,865.1 474.7,852.1 476.1,852.1 475.8,862.9 477.2,862.9 481.4,847.5 482.8,847.5 481.9,862.3 483.3,862.3 485.1,852.4 486.5,852.4 488.2,860 489.6,860 491.3,851 492.7,851 491.3,882.2 492.7,882.2 494.6,857.1 496,857.1 496.8,868.6 498.2,868.6 499.1,852.7 500.5,852.7 499.6,871.7 501,871.7 502.1,856.6 503.5,856.6 504.6,873.9 506,873.9 508.4,836.4 509.8,836.4 509.5,872.3 510.9,872.3 511.5,856.2 512.9,856.2 513.4,873.9 514.8,873.9 516.2,852.1 517.6,852.1 518.9,868.4 520.3,868.4 520,852.1 521.4,852.1 525,870.3 526.4,870.3 527.8,844.7 529.2,844.7 532.2,863.4 533.6,863.4 535.5,855.5 536.9,855.5 536.6,860.1 538,860.1 538.8,855.5 540.2,855.5 541,862.3 542.4,862.3 547.9,823.4 549.3,823.4 554.8,855.2 556.2,855.2 557.5,839.8 558.9,839.8 559.9,838.1 561.3,838.1 562.3,838.1 563.7,838.1 564.7,838.1 566.1,838.1 567,828.2 568.4,828.2 569.8,834.7 571.2,834.7 572.5,819.3 573.9,819.3 575.2,836.3 576.6,836.3 580.9,810.1 587.1,800.8 582.6,800.8 584.2,791.6 594.2,791.6 595.9,782.4 586,782.4 597.1,773.1 598.3,763.9 601.1,754.7 602.2,754.7 604.6,745.4 606.1,736.2 610.4,736.2 615,726.9 607.5,726.9 610.9,717.7 619.8,717.7 620.4,708.5 615,708.5 616.3,699.2 625.4,699.2 632.2,690 626.1,690 626.6,688.5 632.4,688.5 632.9,679.7 627,679.7 627.4,670.9 633.3,670.9 634.8,662 635.3,653.2 635.7,644.4 637.1,635.5 638.8,635.5 641.6,626.7 638.6,626.7 643.5,617.9 643.5,609.1 643.5,600.2 651.7,591.4 643.8,591.4 644.1,582.6 652.7,582.6 654.4,573.7 645.1,573.7 646.1,564.9 656.9,564.9 659.5,556.1 660.2,547.2 662.1,538.4 664.3,529.6 665,517.3 665.3,516.7 666.7,516.7 670,545.2 671.4,545.2 674.8,518.6 676.2,518.6 678.2,538.8 679.6,538.8 682.3,523.1 683.7,523.1 685.7,542.4 687.1,542.4 689.6,516.7 691,516.7 691.9,525.5 692.7,525.5 694.2,534.4 695.9,543.3 697.1,552.2 697.8,561.1 701.9,570 699.5,570 703.5,578.9 704.6,587.8 705.5,596.7 708.9,605.6 707.4,605.6 710.3,614.5 714.4,623.4 712.1,623.4 716.3,632.3 717,632.3 719.4,641.2 724,650.2 725.8,659.1 726.8,668 727.6,676.9 728.6,685.8 729.9,694.7 731.4,696.1 734,705.1 736.6,714.1 738.4,723.1 739.8,732.1 741.2,741.1 742.1,750 742.8,759 743.4,768 744.2,777 745.3,786 759.2,795 746.3,795 747,803.9 760,803.9 765.1,812.9 761.9,812.9 762.9,821.9 768.9,821.9 770.2,830.9 766.1,830.9 771.3,839.9 772.6,839.9 777.5,848.9 772.8,848.9 778.3,857.8 780.4,857.8 781.2,881.1 782.6,881.1 786.6,858.9 788,858.9 793.5,868.4 794.9,868.4 794.8,859.2 796.2,859.2 798.5,866.2 799.9,866.2 802.1,860.9 803.5,860.9 805.7,867.7 807.1,867.7 807.8,842.5 809.2,842.5 812.6,866.3 814,866.3 815.3,847.3 816.7,847.3 817.3,862.5 818.7,862.5 819.4,845.9 820.8,845.9 824.8,880.3 826.2,880.3 828.9,860.9 830.3,860.9 834.4,866.3 835.8,866.3 839.8,842.5 841.2,842.5 846,888.9 847.4,888.9 847.4,849.3 848.8,849.3 854.2,875.9 855.6,875.9 854.9,842.5 856.3,842.5 860.3,878.9 861.7,878.9 861.7,847.3 863.1,847.3 863.7,868.4 865.1,868.4 865.8,845.5 867.2,845.5 867.8,871.8 869.2,871.8 870.9,862.8 872.3,862.8 874,876.2 875.4,876.2 875.3,860.2 876.7,860.2 882.8,866.3 884.2,866.3 886.2,842.5 887.6,842.5 890.9,870.4 892.3,870.4 893.7,849.4 895.1,849.4 896.7,860.8 898.1,860.8 899.8,846.7 901.2,846.7 899.8,862.4 901.2,862.4 907.5,853.3 908.9,853.3 908.6,871.2 910,871.2 913.6,850.5 915,850.5 917.4,872.3 918.8,872.3 921.3,860.5 922.7,860.5 922.4,870.1 923.8,870.1 926.8,858.6 928.2,858.6 927.9,876.2 929.3,876.2 934,867.1 935.4,867.1 935.1,876.4 936.5,876.4 940.7,873.5 942.1,873.5 944,886.4 945.4,886.4 947.3,868 948.7,868 950,884.5 951.4,884.5 953.1,871.3 954.5,871.3 956.1,885.4 957.5,885.4 959.4,855.5 960.8,855.5 963.9,868.5 965.3,868.5 967.2,865.5 968.6,865.5 969.4,867.9 970.8,867.9 971.6,865.5 973,865.5 973.8,892.5 975.2,892.5 975.5,869.9 976.9,869.9 977.9,877.6 979.3,877.6 980.4,869.6 981.8,869.6 981.5,879.5 982.9,879.5 984.9,869.9 986.3,869.9 986.5,881.2 987.9,881.2 990.4,866 991.8,866 993.7,874.5 995.1,874.5 996.5,862.7 997.9,862.7 998.4,873.9 999.8,873.9 1000.3,864.3 1001.7,864.3 1000.9,880.3 1002.3,880.3 1005.8,860.7 1007.2,860.7 1009.2,872.3 1010.6,872.3 1011.1,862.5 1012.5,862.5 1013,867.7 1014.4,867.7 1015,862.4 1016.4,862.4 1016.9,868.5 1018.3,868.5 1017.4,852.5 1018.8,852.5 1020.8,867.5 1022.2,867.5 1024.1,856.1 1025.5,856.1 1024.1,876.4 1025.5,876.4 1029.1,854.7 1030.5,854.7 1031.8,869.6 1033.2,869.6 1037.3,867.7 1038.7,867.7 1042.3,868 1043.7,868 1042.3,879.3 1043.7,879.3 1045.6,858.8 1047,858.8 1048.4,857.7 1049.8,857.7 1051.2,857.7 1052.6,857.7 1053.9,857.7 1055.3,857.7 1056.7,845.6 1058.1,845.6 1057.8,856.5 1059.2,856.5 1059.4,852 1060.8,852 1061.1,862.9 1062.5,862.9 1064.4,852.7 1065.8,852.7 1068.8,871.2 1070.2,871.2 1076,840.4 1077.4,840.4 1077.1,860.5 1078.5,860.5 1083.1,847.3 1084.5,847.3 1083.7,863.3 1085.1,863.3 1088.7,844.6 1090.1,844.6 1088.7,860.6 1090.1,860.6 1091.4,847.3 1092.8,847.3 1094.2,862.5 1095.6,862.5 1098.1,839.6 1099.5,839.6 1100.8,858.9 1102.2,858.9 1103.6,843.5 1105,843.5 1106.3,858.9 1107.7,858.9 1109.1,829.4 1110.5,829.4 1111.3,849.5 1112.7,849.5 1113.8,841.4 1115.2,841.4 1116.3,850.1 1117.7,850.1 1117.4,839.3 1118.8,839.3 1120.7,847.3 1122.1,847.3 1124,834.6 1125.4,834.6 1129,860.4 1130.4,860.4 1130.7,836.2 1132.1,836.2 1132.6,851.2 1134,851.2 1134.5,835.5 1135.9,835.5 1137.3,852.8 1138.7,852.8 1139.8,838.8 1141.2,838.8 1142.3,852.3 1143.7,852.3 1143.9,820.8 1145.3,820.8 1149.4,846.8 1150.8,846.8 1151.6,827.2 1153,827.2 1154.1,833 1155.5,833 1156.6,825.5 1158,825.5 1156.6,834.6 1158,834.6 1163.8,829.6 1165.2,829.6 1164.9,857.3 1166.3,857.3 1169.9,825.5 1171.3,825.5 1173.2,841.2 1174.6,841.2 1178.2,821.6 1179.6,821.6 1178.7,839.6 1180.1,839.6 1181.8,825.4 1183.2,825.4 1184.8,842.3 1186.2,842.3 1190.9,806.5 1192.3,806.5 1192.5,834.9 1193.9,834.9 1199.7,824.4 1201.1,824.4 1200.3,840.4 1201.7,840.4 1206.9,818.9 1208.3,818.9 1207.4,837.4 1208.8,837.4 1209.2,832.7 1210.6,832.7 1211,836.2 1212.4,836.2 1212.8,832.7 1214.2,832.7 1214.6,852.3 1216,852.3 1215.2,831.6 1216.6,831.6 1218.2,846.3 1219.6,846.3 1221.3,827.5 1222.7,827.5 1221.8,849.5 1223.2,849.5 1225.1,841.6 1226.5,841.6 1228.4,853.4 1229.8,853.4 1229.5,839.3 1230.9,839.3 1231.8,841.8 1233.2,841.8 1234,839.6 1235.4,839.6 1237.3,842.3 1238.7,842.3 1241.2,833.6 1242.6,833.6 1241.2,841.2 1242.6,841.2 1245.6,834.3 1247,834.3 1246.7,843.4 1248.1,843.4 1251.1,830.7 1252.5,830.7 1251.6,841.6 1253,841.6 1256.6,846.2 1258,846.2 1261,842.6 1262.4,842.6 1267.1,852.3 1268.5,852.3 1271.5,826.4 1272.9,826.4 1275.3,846.4 1276.7,846.4 1280.9,834.3 1282.3,834.3 1280.9,851.7 1282.3,851.7 1283.1,853.5 1284.5,853.5 1285.3,853.5 1286.7,853.5 1287.5,853.5 1288.9,853.5 1289.7,866.1 1291.1,866.1 1290.8,855.3 1292.2,855.3 1296.3,862.5 1297.7,862.5 1296.9,853.1 1298.3,853.1 1298.7,861.7 1300.1,861.7 1300.5,857.6 1301.9,857.6 1302.3,862.9 1303.7,862.9 1304.1,857 1305.5,857 1304.6,868.3 1306,868.3 1310.7,852.8 1312.1,852.8 1312.9,862.2 1314.3,862.2 1316.2,851.5 1317.6,851.5 1320.7,867.2 1322.1,867.2 1324.5,856.4 1325.9,856.4 1327.8,865.5 1329.2,865.5 1331.7,858.7 1333.1,858.7 1331.7,866.6 1333.1,866.6 1337.2,860.9 1338.6,860.9 1340,874.4 1341.4,874.4 1343.9,855.7 1345.3,855.7 1348.3,865.5 1349.7,865.5 1351.6,855.7 1353,855.7 1354.9,866.1 1356.3,866.1 1355.5,858.1 1356.9,858.1 1359.3,864.4 1360.7,864.4 1361.5,848.7 1362.9,848.7 1366.5,871.3 1367.9,871.3 1368.7,855.3 1370.1,855.3 1371.8,858.5 1373.2,858.5 1374.8,852.8 1376.2,852.8 1375.3,859.5 1376.7,859.5 1380.3,850.9 1381.7,850.9 1381.4,858.4 1382.8,858.4 1385.8,848.7 1387.2,848.7 1385.8,855.6 1387.2,855.6 1387.5,850 1388.9,850 1389.2,856.2 1390.6,856.2 1391.4,847.6 1392.8,847.6 1393.9,854.5 1395.3,854.5 1396.3,848.2 1397.7,848.2 1398,866.1 1399.4,866.1 1401.3,844.6 1402.7,844.6 1405.7,851.7 1407.1,851.7 1406.8,841.5 1408.2,841.5 1411.3,850.8 1412.7,850.8 1415.7,833.6 1417.1,833.6 1417.3,837.9 1418.7,837.9 1422.3,837.1 1423.7,837.1 1423.4,842.3 1424.8,842.3 1428.9,833.8 1430.3,833.8 1431.2,840.6 1432.6,840.6 1433.4,832.7 1434.8,832.7 1433.4,842.3 1434.8,842.3 1436.1,833.9 1437.5,833.9 1438.9,837.4 1440.3,837.4 1440,823.3 1441.4,823.3 1442.2,834.9 1443.6,834.9 1445,825.3 1446.4,825.3 1447.7,832.6 1449.1,832.6 1449.9,813.3 1451.3,813.3 1452.7,824.7 1454.1,824.7 1457.7,818.8 1459.1,818.8 1458.8,824.1 1460.2,824.1 1461.5,819.9 1462.9,819.9 1464.2,824.1 1465.6,824.1 1465.3,801.7 1466.7,801.7 1470.9,800.9 1472.3,800.9 1470.9,802.6 1472.3,802.6 1476.4,803.7 1477.8,803.7 1477.5,783.5 1478.9,783.5 1484.1,791 1485.5,791 1484.7,773.6 1486.1,773.6 1489.7,791.8 1491.1,791.8 1493,784.1 1494.4,784.1 1497.4,770.8 1498.8,770.8 1497.4,783.8 1498.8,783.8 1504,765.3 1505.4,765.3 1504,781.6 1505.4,781.6 1507.9,766.4 1509.3,766.4 1508.4,782.1 1509.8,782.1 1512.9,763.4 1514.3,763.4 1512.9,781.6 1514.3,781.6 1519.5,766.4 1520.9,766.4 1519.5,787.4 1520.9,787.4 1522.3,769 1523.7,769 1525,783.8 1526.4,783.8 1527.8,758.4 1529.2,758.4 1531.1,792.3 1532.5,792.3 1534.4,770.6 1535.8,770.6 1537.7,788.2 1539.1,788.2 1539.4,771.4 1540.8,771.4 1547.1,800.6 1548.5,800.6 1548.2,790.1 1549.6,790.1 1553.2,798.7 1554.6,798.7 1553.7,789.2 1555.1,789.2 1559.3,807 1560.7,807 1561.5,802.3 1562.9,802.3 1567,821.6 1568.4,821.6 1569.2,811.1 1570.6,811.1 1573.1,819.2 1574.5,819.2 1577,816.1 1578.4,816.1 1579.2,827.5 1580.6,827.5 1584.7,827.7 1586.1,827.7 1586.9,833.5 1588.3,833.5 1589.7,829.3 1591.1,829.3 1592.4,842.4 1593.8,842.4 1594.6,834.9 1596,834.9 1597.9,843.7 1599.3,843.7 1599.1,833.2 1600.5,833.2 1602.4,843.9 1603.8,843.9 1605.7,840.9 1607.1,840.9 1606.8,849.6 1608.2,849.6 1610.1,842 1611.5,842 1612.3,850.8 1613.7,850.8 1614.5,852 1615.9,852 1616.7,850.8 1618.1,850.8 1618.9,852 1620.3,852 1618.9,871.4 1620.3,871.4 1621.2,855.9 1622.6,855.9 1629.4,855.6 1630.8,855.6 1630,852.6 1631.4,852.6 1635.8,861.9 1637.2,861.9 1638,860.5 1639.4,860.5 1640.8,862.5 1642.2,862.5 1642.4,860.8 1643.8,860.8 1648,871.3 1649.4,871.3 1652.4,857.5 1653.8,857.5 1653.5,869.6 1654.9,869.6 1656.3,864.7 1657.7,864.7 1659,872.2 1660.4,872.2 1661.2,865.5 1662.6,865.5 1664,871.3 1665.4,871.3 1666.8,865.8 1668.2,865.8 1669,874.3 1670.4,874.3 1669.5,867.7 1670.9,867.7 1675.6,871.3 1677,871.3 1676.7,857.5 1678.1,857.5 1681.1,873.5 1682.5,873.5 1685.5,868.3 1686.9,868.3 1687.8,876.3 1689.2,876.3 1690.5,871.6 1691.9,871.6 1693.3,875.2 1694.7,875.2 1697.7,865.5 1699.1,865.5 1697.7,877.4 1699.1,877.4 1699.6,867.5 1701,867.5 1701.6,873.1 1703,873.1 1703.5,867.3 1704.9,867.3 1705.4,874.3 1706.8,874.3 1708.7,855.6 1710.1,855.6 1711,874.9 1712.4,874.9 1716.5,868.8 1717.9,868.8 1718.7,879.2 1720.1,879.2 1722,863.8 1723.4,863.8 1727.5,871.3 1728.9,871.3 1729.7,872.9 1731.1,872.9 1730.8,853.6 1732.2,853.6 1736.4,881.2 1737.8,881.2 1739.1,867.7 1740.5,867.7 1744.1,879.6 1745.5,879.6 1746.3,863.6 1747.7,863.6 1750.2,884.3 1751.6,884.3 1752.9,868.3 1754.3,868.3 1763.5,893.8"><title>50% Ar, 50% O2</title></polyline>
<polyline class="ln" stroke="#00af64" points="174.6,758.3 181,810.3 182.4,810.3 183.5,763.5 185.4,688.1 192.7,669.3 194.1,669.3 195.2,760 196.6,760 199.5,678 200.9,678 202.6,716.7 204,716.7 205.7,676.4 207.1,676.4 207,726.4 206.9,781.6 208.3,781.6 215.6,739.1 216.8,786.2 218.2,786.2 226.4,724 226,692.4 227.4,692.4 228.5,761.9 229.9,761.9 230.3,705.5 231.7,705.5 232.2,743.9 233.6,743.9 234.1,705.1 235.5,705.1 235.9,755.1 237.3,755.1 238.4,662.5 239.8,662.5 240.2,734.7 241.6,734.7 243.3,706.6 244.7,706.6 246.4,727.7 247.8,727.7 249.5,699.6 250.9,699.6 250.7,742.8 252.1,742.8 255.7,721.8 257.1,721.8 259.4,770.3 260.8,770.3 261.8,727.4 263.2,727.4 268,759.4 269.4,759.4 269.2,729.2 270.6,729.2 276,764.4 277.4,764.4 277.9,710.5 279.3,710.5 282.8,780.4 284.2,780.4 284.7,692.2 286.1,692.2 287.1,721.3 288.5,721.3 289.6,699.5 291,699.5 292.1,721.3 293.5,721.3 294.5,658.5 295.9,658.5 298.9,728.6 300.3,728.6 300.7,686.6 302.1,686.6 302.6,724.9 304,724.9 306.3,676.7 307.7,676.7 312.4,734.7 313.8,734.7 318.6,702.7 320,702.7 319.9,749.5 321.3,749.5 322.3,710.7 323.7,710.7 325.4,741.7 326.8,741.7 328.5,710.1 329.9,710.1 329.7,761.3 331.1,761.3 333.2,715.6 334.6,715.6 336.7,732.3 338.1,732.3 340.2,696.5 341.6,696.5 341.5,737.8 342.9,737.8 343.5,727 344.9,727 345.5,735.1 346.9,735.1 347.5,727 348.9,727 349.5,752.3 350.9,752.3 351.3,724.3 352.7,724.3 354,736.6 355.4,736.6 356.7,727.4 358.1,727.4 359.4,739.7 360.8,739.7 360.9,713.6 362.3,713.6 365.3,742.4 366.7,742.4 368.7,719.5 370.1,719.5 369.8,747.4 371.2,747.4 374.7,723.9 376.1,723.9 377.5,766.2 378.9,766.2 381.9,716.2 383.3,716.2 384.1,761.2 385.5,761.2 386.1,732.7 387.5,732.7 388,761.5 389.4,761.5 388.6,725.6 390,725.6 395.2,779.4 396.6,779.4 395.7,728.3 397.1,728.3 402.4,755.7 403.8,755.7 404.6,715.8 406,715.8 405.1,759.5 406.5,759.5 412.3,734.4 413.7,734.4 412.3,767.3 413.7,767.3 418.9,731.6 420.3,731.6 420,757.3 421.4,757.3 422.8,757.3 424.2,757.3 426.1,735.5 427.5,735.5 427.2,759.5 428.6,759.5 430.5,718.4 431.9,718.4 432.8,758.4 434.2,758.4 435.8,722.4 437.2,722.4 438.8,738.5 440.2,738.5 440.5,689.6 441.9,689.6 443.3,728.8 444.7,728.8 446,690.2 447.4,690.2 446,768.4 447.4,768.4 452.6,682.7 454,682.7 458.2,731.6 459.6,731.6 463.7,711.7 465.1,711.7 465.9,728.4 467.3,728.4 468.1,717.3 469.5,717.3 469.8,766.2 471.2,766.2 476.4,700.7 477.8,700.7 478.6,755.7 480,755.7 480.8,728.4 482.2,728.4 483,755.3 484.4,755.3 484.5,721.7 485.9,721.7 485.8,752.9 487.2,752.9 488.6,736.9 490,736.9 493,692.6 494.4,692.6 494.6,747.4 496,747.4 497.7,724.5 499.1,724.5 500.7,753.4 502.1,753.4 501.3,718.4 502.7,718.4 502.9,736 504.3,736 504.6,714 506,714 508.4,740.7 509.8,740.7 510.1,712.6 511.5,712.6 514.5,744.3 515.9,744.3 515.1,714 516.5,714 517.8,723.9 519.2,723.9 520.6,716.4 522,716.4 523.4,726.4 524.8,726.4 525.6,698.5 527,698.5 526.5,716 545.8,716 549.5,706.8 526.5,706.8 527.5,697.6 549.9,697.6 550.3,688.4 538.4,688.4 538.9,679.3 551.4,679.3 556.5,670.1 539.1,670.1 539.3,660.9 556.8,660.9 557.1,651.7 539.5,651.7 551.9,642.5 568,642.5 571,633.3 552.7,633.3 556.9,624.1 579.5,624.1 580.4,614.9 559.8,614.9 561.6,605.7 583.4,605.7 583.8,596.5 574.8,596.5 576.3,587.3 584.2,587.3 585.1,578.1 585.9,568.9 588.1,559.7 588.7,550.6 590.3,541.4 590,540.6 590.8,531.7 591.9,522.8 597.1,522.8 600,514 592.9,514 601.7,505.1 602.8,496.2 605.1,487.4 609.1,487.4 610.3,478.5 605.3,478.5 607,469.6 611,469.6 612.2,460.8 612.4,451.9 612.7,443 614.3,434.2 618.2,425.3 615.2,425.3 615.3,416.4 619.4,416.4 620.2,407.5 617.7,407.5 621.6,398.7 622.4,389.8 623,380.9 629.5,380.9 630.2,372.1 624.3,372.1 625.9,363.2 631.7,363.2 632.3,354.3 632.6,345.5 632.8,341.9 632.9,332.9 633.1,323.9 636.5,314.8 633.7,314.8 634.5,305.8 643.1,305.8 643.2,296.7 637.8,296.7 639.7,287.7 643.3,287.7 645.3,278.7 640.7,278.7 646.2,269.6 649.2,269.6 649.4,260.6 648.7,260.6 650,251.5 650.8,251.5 660.7,242.5 650.6,242.5 651.1,233.5 663.7,233.5 664.1,224.4 651.6,224.4 652.2,215.4 664.7,215.4 665.7,206.3 654.1,206.3 666.7,197.3 667.3,180.9 668,167.3 668,157.4 669.4,157.4 670.2,185 675.5,189.8 681.7,191.9 684.5,197.3 685.5,208.2 685.7,217.8 690.7,226.8 685.8,226.8 688.2,235.9 693.5,235.9 694.3,245 692.6,245 694.8,254 695.8,263.1 697.7,272.2 700.7,272.2 701.3,281.2 698.7,281.2 701.9,290.3 703,299.4 703.9,308.4 705.9,308.4 708.9,317.5 704.1,317.5 705.6,326.5 709.3,326.5 709.4,335.6 710.5,344.7 710.8,348.2 711.9,348.2 712.7,357.1 713.1,366 714,375 715,383.9 715.5,392.8 716,401.8 718.4,410.7 717.1,410.7 718.2,419.6 720.1,419.6 722.5,428.6 723,437.5 723.8,446.4 725.1,455.4 726.2,464.3 726.8,473.2 727.3,482.2 728.1,491.1 729.1,500 730,509 735,517.9 730.5,517.9 730.8,526.8 735.2,526.8 735.4,535.7 731.1,535.7 731.4,544.7 735.6,544.7 730.6,546.4 736,546.4 737.4,555.6 738,564.8 739.8,574 738.1,574 742,583.2 743.2,592.4 743.9,601.6 746.6,601.6 750.2,610.8 746.5,610.8 748.1,620.1 751.2,620.1 752.4,629.3 753.4,638.5 757.3,647.7 754.6,647.7 756.1,656.9 761.3,656.9 763.2,666.1 758.6,666.1 759.7,675.3 764.2,675.3 764.6,684.5 761.9,684.5 765.8,693.7 767.4,693.7 770.3,727.4 771.7,727.4 773.9,713.1 775.3,713.1 777.5,723.8 778.9,723.8 781.2,709.5 782.6,709.5 782.5,743.5 783.9,743.5 786.6,714.2 788,714.2 789,740.4 790.4,740.4 791.4,724.2 792.8,724.2 794.8,747 796.2,747 798.2,728.2 799.6,728.2 801.6,743.5 803,743.5 801.9,693.4 803.3,693.4 804.6,740.2 806,740.2 807.2,730.1 808.6,730.1 809.9,740.2 811.3,740.2 812.6,726.8 814,726.8 813.9,763.3 815.3,763.3 816,740.8 817.4,740.8 819.6,750.6 821,750.6 823.2,743.3 824.6,743.3 826.9,753.1 828.3,753.1 827.6,719.4 829,719.4 831,743.6 832.4,743.6 834.4,719.4 835.8,719.4 835.8,748.3 837.2,748.3 841.2,723.1 842.6,723.1 844.6,729.4 846,729.4 848,718.6 849.4,718.6 849.4,731.3 850.8,731.3 854.9,722.4 856.3,722.4 856.2,731.9 857.6,731.9 861.7,716.7 863.1,716.7 863,731.3 864.4,731.3 873.3,732 874.7,732 876.7,755.1 878.1,755.1 881.5,710.1 882.9,710.1 884.9,737.4 886.3,737.4 887.9,722.6 889.3,722.6 890.9,737.9 892.3,737.9 892,718.9 893.4,718.9 897,738.5 898.4,738.5 900.9,731.6 902.3,731.6 902.5,743.4 903.9,743.4 904.7,729.4 906.1,729.4 906.5,731.8 907.9,731.8 908.3,730 909.7,730 910.1,731.8 911.5,731.8 911.9,711.7 913.3,711.7 914.1,732.4 915.5,732.4 917.4,713.7 918.8,713.7 918,735.2 919.4,735.2 920.5,718.2 921.9,718.2 923,744.3 924.4,744.3 924.6,714.1 926,714.1 927.9,745.1 929.3,745.1 930.7,711.7 932.1,711.7 934,753.4 935.4,753.4 938.4,729.4 939.8,729.4 942.3,747.3 943.7,747.3 944,728.8 945.4,728.8 947.8,750.6 949.2,750.6 949.5,729.6 950.9,729.6 953.9,755.4 955.3,755.4 954.5,731.4 955.9,731.4 956.8,736.2 958.2,736.2 959.2,732.6 960.6,732.6 961.5,736.2 962.9,736.2 963.9,720.5 965.3,720.5 965,737.4 966.4,737.4 970.5,723.6 971.9,723.6 972.7,736.8 974.1,736.8 974.4,726.5 975.8,726.5 976,740.7 977.4,740.7 977.1,723.6 978.5,723.6 979.9,739.5 981.3,739.5 982.6,734.9 984,734.9 984.9,758.4 986.3,758.4 989.3,723.8 990.7,723.8 992.4,745.7 993.8,745.7 993.1,722.7 994.5,722.7 995.1,741.2 996.5,741.2 997,722.7 998.4,722.7 999.2,746.8 1000.6,746.8 1000.3,719.4 1001.7,719.4 1003.1,742.9 1004.5,742.9 1004.2,718.5 1005.6,718.5 1005.8,742.9 1007.2,742.9 1010.8,726.1 1012.2,726.1 1012.5,742.9 1013.9,742.9 1014.3,728.7 1015.7,728.7 1016.1,735.9 1017.5,735.9 1017.9,728.4 1019.3,728.4 1019.7,736.8 1021.1,736.8 1020.2,710.4 1021.6,710.4 1024.6,739.6 1026,739.6 1026.8,715.6 1028.2,715.6 1030.2,737.4 1031.6,737.4 1032.4,719.4 1033.8,719.4 1034.6,740.4 1036,740.4 1037.9,717.5 1039.3,717.5 1042.3,733.5 1043.7,733.5 1045.1,720.7 1046.5,720.7 1047.8,732.9 1049.2,732.9 1048.4,703.6 1049.8,703.6 1051.2,729.6 1052.6,729.6 1055.6,713.4 1057,713.4 1056.7,733.5 1058.1,733.5 1061.1,709.5 1062.5,709.5 1066.6,723.6 1068,723.6 1067.2,705.6 1068.6,705.6 1069.9,722.4 1071.3,722.4 1072.7,718.9 1074.1,718.9 1075.5,736.3 1076.9,736.3 1077.1,717.7 1078.5,717.7 1081.5,731.2 1082.9,731.2 1086.5,694.5 1087.9,694.5 1086.5,730.7 1087.9,730.7 1088.1,716.2 1089.5,716.2 1089.8,726.8 1091.2,726.8 1094.2,713.3 1095.6,713.3 1096.4,731.2 1097.8,731.2 1097,712.7 1098.4,712.7 1099.4,714.7 1100.8,714.7 1101.9,713.2 1103.3,713.2 1104.4,714.7 1105.8,714.7 1106.9,697.3 1108.3,697.3 1109.7,715.2 1111.1,715.2 1112.4,716.9 1113.8,716.9 1116.8,706.3 1118.2,706.3 1122.4,731.2 1123.8,731.2 1125.1,691.4 1126.5,691.4 1129.5,716.9 1130.9,716.9 1130.7,691.7 1132.1,691.7 1134,716.3 1135.4,716.3 1135.6,690.4 1137,690.4 1138.4,713.6 1139.8,713.6 1140,704.2 1141.4,704.2 1141.7,716.3 1143.1,716.3 1142.8,701.7 1144.2,701.7 1145,713.3 1146.4,713.3 1147.2,701.7 1148.6,701.7 1147.2,716.1 1148.6,716.1 1150.5,701.7 1151.9,701.7 1152.8,716.3 1154.2,716.3 1155.5,698.6 1156.9,698.6 1159.9,726.3 1161.3,726.3 1164.4,706.1 1165.8,706.1 1167.1,721.3 1168.5,721.3 1169.3,703.6 1170.7,703.6 1171.5,720.7 1172.9,720.7 1176,705.6 1177.4,705.6 1176,724.1 1177.4,724.1 1179.8,707.2 1181.2,707.2 1183.7,742.3 1185.1,742.3 1194.2,676.5 1195.6,676.5 1194.7,705.5 1196.1,705.5 1196.4,691.3 1197.8,691.3 1198.1,708 1199.5,708 1201.4,687.5 1202.8,687.5 1203,708.4 1204.4,708.4 1206.9,687.9 1208.3,687.9 1209.7,713.2 1211.1,713.2 1211.3,692.3 1212.7,692.3 1216.8,704.7 1218.2,704.7 1217.9,692.1 1219.3,692.1 1221.3,708.6 1222.7,708.6 1223.5,691.7 1224.9,691.7 1225.7,710.2 1227.1,710.2 1229,688.7 1230.4,688.7 1231.2,698.5 1232.6,698.5 1233.4,689 1234.8,689 1233.4,700.8 1234.8,700.8 1236.2,690.1 1237.6,690.1 1236.7,704.2 1238.1,704.2 1239.2,692 1240.6,692 1241.7,704.2 1243.1,704.2 1242.3,685.5 1243.7,685.5 1248.9,715.2 1250.3,715.2 1249.4,696.2 1250.8,696.2 1253.3,714.7 1254.7,714.7 1257.2,684.6 1258.6,684.6 1260.5,722.2 1261.9,722.2 1264.4,699.5 1265.8,699.5 1266,712.9 1267.4,712.9 1267.7,695.6 1269.1,695.6 1267.7,715.8 1269.1,715.8 1271.5,693.6 1272.9,693.6 1274.2,719 1275.6,719 1278.1,702.7 1279.5,702.7 1278.1,719.6 1279.5,719.6 1282,704.4 1283.4,704.4 1288.1,734.3 1289.5,734.3 1290.8,721.5 1292.2,721.5 1292.5,728.7 1293.9,728.7 1294.1,717.1 1295.5,717.1 1297.4,729.5 1298.8,729.5 1300.2,713.6 1301.6,713.6 1304.1,733.4 1305.5,733.4 1308.5,718.2 1309.9,718.2 1311.8,729.3 1313.2,729.3 1315.7,710.7 1317.1,710.7 1321.2,743.3 1322.6,743.3 1324.5,711.6 1325.9,711.6 1328.4,737.8 1329.8,737.8 1329.5,713.2 1330.9,713.2 1331.4,732.8 1332.8,732.8 1333.4,711.6 1334.8,711.6 1337.2,752.4 1338.6,752.4 1340.5,721.3 1341.9,721.3 1343.3,730.1 1344.7,730.1 1346.1,721.3 1347.5,721.3 1350.5,732.3 1351.9,732.3 1351.6,720.4 1353,720.4 1358.2,743.3 1359.6,743.3 1361,729.5 1362.4,729.5 1362.9,737.8 1364.3,737.8 1364.9,726.5 1366.3,726.5 1364.9,739.5 1366.3,739.5 1368.7,725.9 1370.1,725.9 1372,745.3 1373.4,745.3 1377,717.7 1378.4,717.7 1378.7,742.2 1380.1,742.2 1382,720.4 1383.4,720.4 1384.2,745.3 1385.6,745.3 1387,710.5 1388.4,710.5 1389.7,742.2 1391.1,742.2 1390.3,709.9 1391.7,709.9 1395.8,739.5 1397.2,739.5 1397.4,696.4 1398.8,696.4 1400.2,733.4 1401.6,733.4 1402.4,719 1403.8,719 1404.6,732.8 1406,732.8 1406.3,715.5 1407.7,715.5 1408.2,726.6 1409.6,726.6 1410.2,713.8 1411.6,713.8 1411.8,728.4 1413.2,728.4 1413.5,712.7 1414.9,712.7 1416.2,730.6 1417.6,730.6 1419,711 1420.4,711 1422.3,737.3 1423.7,737.3 1428.4,698.5 1429.8,698.5 1429.5,726.2 1430.9,726.2 1433.4,701.6 1434.8,701.6 1435,725.3 1436.4,725.3 1438.9,702.2 1440.3,702.2 1441.1,728.4 1442.5,728.4 1445.5,690.6 1446.9,690.6 1446.6,726.2 1448,726.2 1449.9,686.2 1451.3,686.2 1451,728.4 1452.4,728.4 1455.5,683.6 1456.9,683.6 1456.5,683.6 1457.9,683.6 1459.3,704.6 1460.7,704.6 1463.7,690.5 1465.1,690.5 1465.3,704.9 1466.7,704.9 1470.9,685.6 1472.3,685.6 1470.9,705.2 1472.3,705.2 1473.6,689.6 1475,689.6 1476.4,707.4 1477.8,707.4 1483,669.8 1484.4,669.8 1483.6,695.8 1485,695.8 1489.7,671.2 1491.1,671.2 1489.7,689.2 1491.1,689.2 1491.9,673.7 1493.3,673.7 1494.1,687.5 1495.5,687.5 1495.2,665.7 1496.6,665.7 1499.6,679.7 1501,679.7 1502.4,668.5 1503.8,668.5 1505.1,680.1 1506.5,680.1 1508.4,646.6 1509.8,646.6 1511.8,672.6 1513.2,672.6 1515.6,655.7 1517,655.7 1516.2,675.3 1517.6,675.3 1520.6,653.5 1522,653.5 1521.7,677 1523.1,677 1523.6,670.6 1525,670.6 1525.6,675.4 1527,675.4 1527.5,670.6 1528.9,670.6 1529.4,692.5 1530.8,692.5 1530.5,669 1531.9,669 1537.2,688.6 1538.6,688.6 1538.3,671.5 1539.7,671.5 1540.2,686.7 1541.6,686.7 1542.1,671.2 1543.5,671.2 1542.7,695.8 1544.1,695.8 1548.2,665.5 1549.6,665.5 1551.5,710.5 1552.9,710.5 1553.3,689 1554.7,689 1555.1,702.1 1556.5,702.1 1556.9,688.7 1558.3,688.7 1558.7,705.2 1560.1,705.2 1559.3,684.4 1560.7,684.4 1561.2,702.8 1562.6,702.8 1563.1,695.6 1564.5,695.6 1565.1,702.8 1566.5,702.8 1567,693.3 1568.4,693.3 1567,725.4 1568.4,725.4 1570.3,708.4 1571.7,708.4 1573.6,724.5 1575,724.5 1575.8,704.3 1577.2,704.3 1578.1,724.9 1579.5,724.9 1580.3,717.6 1581.7,717.6 1581.4,732.5 1582.8,732.5 1584.1,712.1 1585.5,712.1 1587.2,725.1 1588.6,725.1 1590.2,711.5 1591.6,711.5 1591.3,727.3 1592.7,727.3 1598.5,703.6 1599.9,703.6 1601.8,740.5 1603.2,740.5 1606.2,718.2 1607.6,718.2 1609,736.6 1610.4,736.6 1611.2,718.7 1612.6,718.7 1614.5,737.2 1615.9,737.2 1615.6,725.3 1617,725.3 1620,740 1621.4,740 1622.3,726.4 1623.7,726.4 1624.5,745.5 1625.9,745.5 1628.9,728.7 1630.3,728.7 1630,747.1 1631.4,747.1 1636.9,723.9 1638.3,723.9 1636.9,750.1 1638.3,750.1 1642.4,721.7 1643.8,721.7 1645.8,752.3 1647.2,752.3 1650.7,721.7 1652.1,721.7 1653.2,734.9 1654.6,734.9 1655.7,726.1 1657.1,726.1 1656.8,737.4 1658.2,737.4 1660.7,726.7 1662.1,726.7 1663.4,736 1664.8,736 1666.2,731.6 1667.6,731.6 1666.8,750.4 1668.2,750.4 1669.5,735 1670.9,735 1672.3,747.9 1673.7,747.9 1672.8,723.4 1674.2,723.4 1676.7,750.4 1678.1,750.4 1679.5,730.5 1680.9,730.5 1682.8,748.5 1684.2,748.5 1685.5,730.8 1686.9,730.8 1690,750.4 1691.4,750.4 1690.5,738.5 1691.9,738.5 1693.3,737.2 1694.7,737.2 1696.6,748.5 1698,748.5 1697.7,736.3 1699.1,736.3 1704.3,747.9 1705.7,747.9 1705.4,719.5 1706.8,719.5 1711,739.4 1712.4,739.4 1711.5,722.5 1712.9,722.5 1715.9,748.5 1717.3,748.5 1717,721.5 1718.4,721.5 1719.6,746 1721,746 1722.2,736.1 1723.6,736.1 1723.1,760.3 1724.5,760.3 1730.8,726.4 1732.2,726.4 1731.4,745.7 1732.8,745.7 1733.9,738.3 1735.3,738.3 1736.4,752.3 1737.8,752.3 1737.5,736.1 1738.9,736.1 1740.2,749 1741.6,749 1743,732.5 1744.4,732.5 1743,752.9 1744.4,752.9 1745.2,738.2 1746.6,738.2 1747.4,755.3 1748.8,755.3 1748.5,735.2 1749.9,735.2 1752.9,753.4 1754.3,753.4 1754.1,734.4 1755.5,734.4 1763.5,764.9"><title>25% Ar, 75% O2</title></polyline>
</g>
<g class="tl"><text transform="translate(174.5 1407) scale(1 1.04)">10</text><text transform="translate(401.5 1407) scale(1 1.04)">20</text><text transform="translate(628.5 1407) scale(1 1.04)">30</text><text transform="translate(855.5 1407) scale(1 1.04)">40</text><text transform="translate(1082.5 1407) scale(1 1.04)">50</text><text transform="translate(1309.5 1407) scale(1 1.04)">60</text><text transform="translate(1536.5 1407) scale(1 1.04)">70</text><text transform="translate(1763.5 1407) scale(1 1.04)">80</text></g>
<text class="ax" transform="translate(969 1516.1) scale(1 1.04)">2 Theta / °</text>
<text class="ax" transform="translate(72.4 653.5) rotate(-90) scale(1 1.04)">Intensity / a.u.</text>
<g class="lg">
<line x1="993" y1="171.5" x2="1151" y2="171.5" stroke="#505050"/><text transform="translate(1171.3 195.4) scale(1 1.04)">100% Ar</text>
<line x1="993" y1="259.5" x2="1151" y2="259.5" stroke="#ff4040"/><text transform="translate(1171.3 283.4) scale(1 1.04)">75% Ar, 25% O<tspan class="sub" dx="1" dy="18.27">2</tspan></text>
<line x1="993" y1="363.5" x2="1151" y2="363.5" stroke="#006ce0"/><text transform="translate(1171.3 388) scale(1 1.04)">50% Ar, 50% O<tspan class="sub" dx="1" dy="18.27">2</tspan></text>
<line x1="993" y1="468.5" x2="1151" y2="468.5" stroke="#00af64"/><text transform="translate(1171.3 492.6) scale(1 1.04)">25% Ar, 75% O<tspan class="sub" dx="1" dy="18.27">2</tspan></text>
</g>
</svg>
</body>
</html>
